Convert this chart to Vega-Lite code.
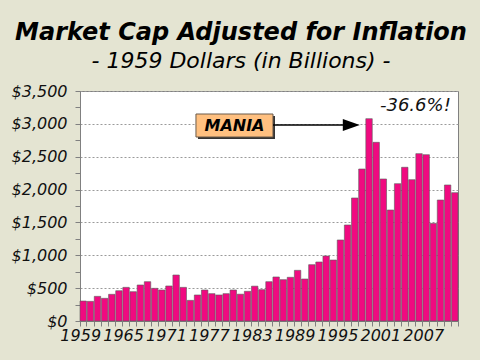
{
  "$schema": "https://vega.github.io/schema/vega-lite/v6.json",
  "width": 378,
  "height": 230,
  "autosize": {"type": "none"},
  "padding": {"left": 80, "top": 91, "right": 22, "bottom": 39},
  "background": "#e4e4d2",
  "view": {"fill": "white", "stroke": "#808080"},
  "title": {
    "text": "Market Cap Adjusted for Inflation",
    "subtitle": "- 1959 Dollars (in Billions) -",
    "font": "DejaVu Sans",
    "fontSize": 24,
    "fontWeight": "bold",
    "fontStyle": "italic",
    "color": "#000000",
    "subtitleFont": "DejaVu Sans",
    "subtitleFontSize": 22,
    "subtitleFontStyle": "italic",
    "subtitleColor": "#000000",
    "anchor": "middle",
    "frame": "group",
    "dx": -28,
    "offset": 11,
    "subtitlePadding": 6
  },
  "datasets": {
    "bars": [
      {"year": 1959, "value": 304}, {"year": 1960, "value": 299}, {"year": 1961, "value": 375},
      {"year": 1962, "value": 345}, {"year": 1963, "value": 406}, {"year": 1964, "value": 461},
      {"year": 1965, "value": 512}, {"year": 1966, "value": 446}, {"year": 1967, "value": 548},
      {"year": 1968, "value": 598}, {"year": 1969, "value": 497}, {"year": 1970, "value": 472},
      {"year": 1971, "value": 533}, {"year": 1972, "value": 700}, {"year": 1973, "value": 512},
      {"year": 1974, "value": 314}, {"year": 1975, "value": 396}, {"year": 1976, "value": 472},
      {"year": 1977, "value": 416}, {"year": 1978, "value": 396}, {"year": 1979, "value": 416},
      {"year": 1980, "value": 472}, {"year": 1981, "value": 408}, {"year": 1982, "value": 452},
      {"year": 1983, "value": 530}, {"year": 1984, "value": 477}, {"year": 1985, "value": 598},
      {"year": 1986, "value": 670}, {"year": 1987, "value": 629}, {"year": 1988, "value": 665},
      {"year": 1989, "value": 771}, {"year": 1990, "value": 639}, {"year": 1991, "value": 857},
      {"year": 1992, "value": 898}, {"year": 1993, "value": 989}, {"year": 1994, "value": 928},
      {"year": 1995, "value": 1233}, {"year": 1996, "value": 1461}, {"year": 1997, "value": 1872},
      {"year": 1998, "value": 2313}, {"year": 1999, "value": 3079}, {"year": 2000, "value": 2719},
      {"year": 2001, "value": 2161}, {"year": 2002, "value": 1689}, {"year": 2003, "value": 2090},
      {"year": 2004, "value": 2339}, {"year": 2005, "value": 2151}, {"year": 2006, "value": 2547},
      {"year": 2007, "value": 2531}, {"year": 2008, "value": 1486}, {"year": 2009, "value": 1841},
      {"year": 2010, "value": 2070}, {"year": 2011, "value": 1953}
    ],
    "shadow": [{"x1": 1975.04, "x2": 1985.84, "y1": 2770, "y2": 3120}],
    "box": [{"x1": 1974.76, "x2": 1985.56, "y1": 2800, "y2": 3150}],
    "label": [{"x": 1980.16, "y": 2975, "text": "MANIA"}],
    "arrow": [{"x1": 1985.56, "x2": 1996.0, "y": 2983}],
    "head": [{"x": 1996.54, "y": 2983}],
    "pct": [{"x": 2010.5, "y": 3200, "text": "-36.6%!"}]
  },
  "layer": [
    {
      "data": {"name": "bars"},
      "mark": {"type": "bar", "color": "#f00a80", "stroke": "#5a5a5a", "strokeWidth": 0.6},
      "encoding": {
        "x": {
          "field": "year",
          "type": "ordinal",
          "scale": {"paddingInner": 0.1, "paddingOuter": 0},
          "axis": {
            "title": null,
            "labelExpr": "(datum.value - 1959) % 6 === 0 ? datum.label : ''",
            "labelAngle": 0,
            "labelOverlap": false,
            "tickBand": "extent",
            "tickSize": 5,
            "tickColor": "#808080",
            "domainColor": "#808080",
            "labelFont": "DejaVu Sans",
            "labelFontStyle": "italic",
            "labelFontSize": 16,
            "labelColor": "#111111",
            "labelPadding": 1,
            "labelOffset": -3,
            "grid": false
          }
        },
        "y": {
          "field": "value",
          "type": "quantitative",
          "title": null,
          "scale": {"domain": [0, 3500], "nice": false},
          "axis": {
            "title": null,
            "values": [0, 250, 500, 750, 1000, 1250, 1500, 1750, 2000, 2250, 2500, 2750, 3000, 3250, 3500],
            "format": "$,.0f",
            "labelExpr": "datum.value % 500 === 0 ? datum.label : ''",
            "labelOverlap": false,
            "labelFont": "DejaVu Sans",
            "labelFontStyle": "italic",
            "labelFontSize": 16,
            "labelColor": "#111111",
            "labelPadding": 8,
            "tickSize": 5,
            "tickColor": "#808080",
            "domainColor": "#808080",
            "grid": true,
            "gridColor": "#9a9a9a",
            "gridDash": [2, 2],
            "gridOpacity": {"condition": {"test": "datum.value % 500 === 0", "value": 1}, "value": 0}
          }
        }
      }
    },
    {
      "data": {"name": "shadow"},
      "mark": {"type": "rect", "color": "#333333"},
      "encoding": {
        "x": {"field": "x1", "type": "quantitative", "scale": {"domain": [1958.5, 2011.5], "nice": false, "zero": false}, "axis": null},
        "x2": {"field": "x2"},
        "y": {"field": "y1", "type": "quantitative", "scale": {"domain": [0, 3500], "nice": false}, "axis": null},
        "y2": {"field": "y2"}
      }
    },
    {
      "data": {"name": "box"},
      "mark": {"type": "rect", "fill": "#ffc080", "stroke": "#6a5a4a", "strokeWidth": 1},
      "encoding": {
        "x": {"field": "x1", "type": "quantitative", "scale": {"domain": [1958.5, 2011.5], "nice": false, "zero": false}, "axis": null},
        "x2": {"field": "x2"},
        "y": {"field": "y1", "type": "quantitative", "scale": {"domain": [0, 3500], "nice": false}, "axis": null},
        "y2": {"field": "y2"}
      }
    },
    {
      "data": {"name": "label"},
      "mark": {"type": "text", "font": "DejaVu Sans", "fontSize": 16, "fontWeight": "bold", "fontStyle": "italic", "color": "#000000", "align": "center", "baseline": "middle"},
      "encoding": {
        "x": {"field": "x", "type": "quantitative", "scale": {"domain": [1958.5, 2011.5], "nice": false, "zero": false}, "axis": null},
        "y": {"field": "y", "type": "quantitative", "scale": {"domain": [0, 3500], "nice": false}, "axis": null},
        "text": {"field": "text"}
      }
    },
    {
      "data": {"name": "arrow"},
      "mark": {"type": "rule", "color": "#000000", "strokeWidth": 1.5},
      "encoding": {
        "x": {"field": "x1", "type": "quantitative", "scale": {"domain": [1958.5, 2011.5], "nice": false, "zero": false}, "axis": null},
        "x2": {"field": "x2"},
        "y": {"field": "y", "type": "quantitative", "scale": {"domain": [0, 3500], "nice": false}, "axis": null}
      }
    },
    {
      "data": {"name": "head"},
      "mark": {"type": "point", "shape": "M-1,-0.7L1,0L-1,0.7Z", "size": 289, "filled": true, "color": "#000000", "opacity": 1},
      "encoding": {
        "x": {"field": "x", "type": "quantitative", "scale": {"domain": [1958.5, 2011.5], "nice": false, "zero": false}, "axis": null},
        "y": {"field": "y", "type": "quantitative", "scale": {"domain": [0, 3500], "nice": false}, "axis": null}
      }
    },
    {
      "data": {"name": "pct"},
      "mark": {"type": "text", "font": "DejaVu Sans", "fontSize": 18, "fontStyle": "italic", "color": "#111111", "align": "right", "baseline": "alphabetic"},
      "encoding": {
        "x": {"field": "x", "type": "quantitative", "scale": {"domain": [1958.5, 2011.5], "nice": false, "zero": false}, "axis": null},
        "y": {"field": "y", "type": "quantitative", "scale": {"domain": [0, 3500], "nice": false}, "axis": null},
        "text": {"field": "text"}
      }
    }
  ],
  "resolve": {"scale": {"x": "independent"}, "axis": {"y": "independent"}}
}
